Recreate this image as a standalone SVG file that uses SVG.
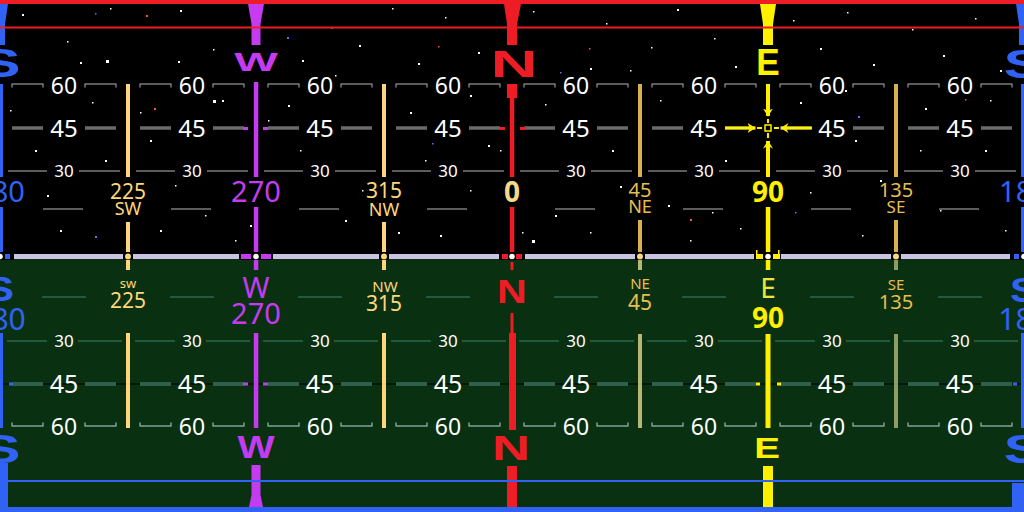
<svg xmlns="http://www.w3.org/2000/svg" width="1024" height="512" viewBox="0 0 1024 512">
<defs>
<style>
.num{font-family:"Noto Sans","DejaVu Sans",sans-serif;text-anchor:middle}
.cap{font-family:"Liberation Sans",Arial,sans-serif;font-weight:bold;text-anchor:middle}
.wt{fill:#ffffff}
.f60{font-size:23px}.f45{font-size:24px}.f45g{font-size:25px}.f30{font-size:17px}
.skyThin{fill:none;stroke:#7b7b7b;stroke-width:1.5;stroke-linejoin:round}
.skyBar{fill:none;stroke:#6b6b6b;stroke-width:3.5}
.gThin{fill:none;stroke:#2f6552;stroke-width:1.5}
.gBar{fill:none;stroke:#2d604c;stroke-width:4}
.gBrk{fill:none;stroke:#7fa097;stroke-width:1.5;stroke-linejoin:round}
.blue{fill:#3162f6}.red{fill:#ee1c24}.pur{fill:#c53cf0}.yel{fill:#fff000}
.lyel{fill:#ffd77a}.gold{fill:#d8b24a}.olive{fill:#b6b677}.sage{fill:#8e9c68}
</style>
<g id="skyCell">
<path class="skyThin" d="M-52,87.5V84H-21V87.5M21,87.5V84H52V87.5"/>
<path class="skyBar" d="M-52,128H-21M21,128H52"/>
<path class="skyThin" d="M-56,171H-17M15,171H56M-21,209H19"/>
</g>
<g id="gndCell">
<path class="gThin" d="M-22,297H22M-57,341H-17M14,341H58"/>
<path class="gBar" d="M-52,384H-21M21,384H52"/>
<path class="gBrk" d="M-52,422.5V426H-21V422.5M21,422.5V426H52V422.5"/>
</g>
<marker id="arrowY" viewBox="0 0 8 10" refX="7.5" refY="5" markerWidth="8" markerHeight="10" markerUnits="userSpaceOnUse" orient="auto">
<path d="M0,0L8,5L0,10L2.5,5z" fill="#fff000"/>
</marker>
</defs>

<g id="background">
<rect x="0" y="0" width="1024" height="256" fill="#000000"/>
<rect x="0" y="256" width="1024" height="256" fill="#0a3012"/>
</g>

<g id="stars">
<path fill="#ffffff" d="M22 14h2v2h-2zM67 41h1.5v1.5h-1.5zM178 61h2v2h-2zM213 49h1.5v1.5h-1.5zM302 60h2v2h-2zM331 27h1.5v1.5h-1.5zM359 45h2v2h-2zM392 8h1.5v1.5h-1.5zM418 63h2v2h-2zM445 17h1.5v1.5h-1.5zM478 52h2v2h-2zM533 11h1.5v1.5h-1.5zM590 68h2v2h-2zM606 23h1.5v1.5h-1.5zM651 47h1.5v1.5h-1.5zM677 9h2v2h-2zM714 38h1.5v1.5h-1.5zM735 66h2v2h-2zM793 20h1.5v1.5h-1.5zM820 48h2v2h-2zM847 12h1.5v1.5h-1.5zM873 64h2v2h-2zM912 29h1.5v1.5h-1.5zM943 55h2v2h-2zM975 18h1.5v1.5h-1.5zM1000 70h2v2h-2zM10 110h1.5v1.5h-1.5zM35 150h2v2h-2zM92 102h1.5v1.5h-1.5zM105 160h2v2h-2zM140 112h1.5v1.5h-1.5zM160 230h2v2h-2zM175 185h1.5v1.5h-1.5zM222 100h2v2h-2zM235 240h1.5v1.5h-1.5zM288 105h2v2h-2zM300 150h1.5v1.5h-1.5zM345 220h2v2h-2zM362 190h1.5v1.5h-1.5zM410 112h2v2h-2zM425 160h1.5v1.5h-1.5zM440 235h2v2h-2zM470 190h1.5v1.5h-1.5zM488 145h2v2h-2zM545 104h1.5v1.5h-1.5zM555 215h2v2h-2zM590 232h1.5v1.5h-1.5zM612 150h2v2h-2zM660 100h1.5v1.5h-1.5zM668 205h2v2h-2zM690 240h1.5v1.5h-1.5zM725 160h2v2h-2zM740 228h1.5v1.5h-1.5zM800 102h2v2h-2zM810 192h1.5v1.5h-1.5zM855 140h2v2h-2zM862 235h1.5v1.5h-1.5zM925 108h2v2h-2zM940 210h1.5v1.5h-1.5zM985 150h2v2h-2zM1005 230h1.5v1.5h-1.5zM60 230h2v2h-2zM205 215h1.5v1.5h-1.5zM47 195h2v2h-2zM268 120h1.5v1.5h-1.5zM398 232h2v2h-2zM522 232h1.5v1.5h-1.5zM620 186h2v2h-2zM712 212h1.5v1.5h-1.5zM880 180h2v2h-2zM990 100h1.5v1.5h-1.5zM150 140h2v2h-2zM335 75h1.5v1.5h-1.5zM470 95h2v2h-2zM585 90h1.5v1.5h-1.5zM845 90h2v2h-2zM920 150h1.5v1.5h-1.5zM80 62h2v2h-2zM110 8h1.5v1.5h-1.5zM250 225h2v2h-2zM500 150h1.5v1.5h-1.5zM700 120h2v2h-2zM630 70h1.5v1.5h-1.5zM106 60h3v3h-3zM213 100h3v3h-3zM532 240h3v3h-3zM640 160h2v2h-2zM180 10h2v2h-2z"/>
<path fill="#ff5050" d="M146 15h2v2h-2zM438 46h1.5v1.5h-1.5zM154 108h2v2h-2zM589 48h1.5v1.5h-1.5zM690 219h2v2h-2zM965 99h1.5v1.5h-1.5z"/>
<path fill="#6a6aff" d="M95 13h1.5v1.5h-1.5zM287 37h2v2h-2zM560 72h1.5v1.5h-1.5zM95 236h2v2h-2zM795 212h1.5v1.5h-1.5zM432 143h1.5v1.5h-1.5zM858 116h2v2h-2z"/>
</g>

<g id="grid">
<use href="#skyCell" x="64"/><use href="#skyCell" x="192"/><use href="#skyCell" x="320"/><use href="#skyCell" x="448"/>
<use href="#skyCell" x="576"/><use href="#skyCell" x="704"/><use href="#skyCell" x="832"/><use href="#skyCell" x="960"/>
<path d="M0,384H1024" stroke="#000000" stroke-width="1"/>
<use href="#gndCell" x="64"/><use href="#gndCell" x="192"/><use href="#gndCell" x="320"/><use href="#gndCell" x="448"/>
<use href="#gndCell" x="576"/><use href="#gndCell" x="704"/><use href="#gndCell" x="832"/><use href="#gndCell" x="960"/>
</g>

<g id="elevation-labels" class="num wt">
<text class="f60" x="64" y="94">60</text><text class="f60" x="192" y="94">60</text><text class="f60" x="320" y="94">60</text><text class="f60" x="448" y="94">60</text>
<text class="f60" x="576" y="94">60</text><text class="f60" x="704" y="94">60</text><text class="f60" x="832" y="94">60</text><text class="f60" x="960" y="94">60</text>
<text class="f45" x="64" y="137">45</text><text class="f45" x="192" y="137">45</text><text class="f45" x="320" y="137">45</text><text class="f45" x="448" y="137">45</text>
<text class="f45" x="576" y="137">45</text><text class="f45" x="704" y="137">45</text><text class="f45" x="832" y="137">45</text><text class="f45" x="960" y="137">45</text>
<text class="f30" x="64" y="177">30</text><text class="f30" x="192" y="177">30</text><text class="f30" x="320" y="177">30</text><text class="f30" x="448" y="177">30</text>
<text class="f30" x="576" y="177">30</text><text class="f30" x="704" y="177">30</text><text class="f30" x="832" y="177">30</text><text class="f30" x="960" y="177">30</text>
<text class="f30" x="64" y="347">30</text><text class="f30" x="192" y="347">30</text><text class="f30" x="320" y="347">30</text><text class="f30" x="448" y="347">30</text>
<text class="f30" x="576" y="347">30</text><text class="f30" x="704" y="347">30</text><text class="f30" x="832" y="347">30</text><text class="f30" x="960" y="347">30</text>
<text class="f45g" x="64" y="393">45</text><text class="f45g" x="192" y="393">45</text><text class="f45g" x="320" y="393">45</text><text class="f45g" x="448" y="393">45</text>
<text class="f45g" x="576" y="393">45</text><text class="f45g" x="704" y="393">45</text><text class="f45g" x="832" y="393">45</text><text class="f45g" x="960" y="393">45</text>
<text class="f60" x="64" y="435">60</text><text class="f60" x="192" y="435">60</text><text class="f60" x="320" y="435">60</text><text class="f60" x="448" y="435">60</text>
<text class="f60" x="576" y="435">60</text><text class="f60" x="704" y="435">60</text><text class="f60" x="832" y="435">60</text><text class="f60" x="960" y="435">60</text>
</g>

<g id="col-S-left">
<polygon class="blue" points="-8,4 8,4 5,24 5,45 -5,45 -5,24"/>
<rect class="blue" x="-3" y="84" width="6" height="93"/>
<rect class="blue" x="-3" y="207" width="6" height="45"/>
<rect class="blue" x="-3" y="333" width="6" height="95"/>
<rect class="blue" x="0" y="463" width="8" height="49"/>
<rect class="blue" x="9" y="382.5" width="4" height="3"/>
<text class="cap blue" font-size="41" transform="translate(0,77) scale(1.5,1)">S</text>
<text class="num blue" font-size="29" x="0" y="202">180</text>
<text class="cap blue" font-size="35" transform="translate(0,301) scale(1.2,1)">S</text>
<text class="num blue" font-size="30" x="0" y="330">180</text>
<text class="cap blue" font-size="41" transform="translate(0,463) scale(1.5,1)">S</text>
</g>

<g id="col-S-right">
<polygon class="blue" points="1016,4 1032,4 1029,24 1029,45 1019,45 1019,24"/>
<rect class="blue" x="1021" y="84" width="6" height="93"/>
<rect class="blue" x="1021" y="207" width="6" height="45"/>
<rect class="blue" x="1021" y="333" width="6" height="95"/>
<rect class="blue" x="1012" y="483" width="12" height="29"/>
<rect class="blue" x="1013" y="382.5" width="4" height="3"/>
<text class="cap blue" font-size="41" transform="translate(1024,78) scale(1.5,1)">S</text>
<text class="num blue" font-size="29" x="1024" y="202">180</text>
<text class="cap blue" font-size="35" transform="translate(1024,302) scale(1.2,1)">S</text>
<text class="num blue" font-size="30" x="1024" y="330">180</text>
<text class="cap blue" font-size="41" transform="translate(1024,463) scale(1.5,1)">S</text>
</g>

<g id="col-225">
<rect class="lyel" x="126" y="84" width="4" height="93"/>
<rect class="lyel" x="126" y="222" width="4" height="30"/>
<rect class="lyel" x="126" y="260" width="4" height="10"/>
<rect class="lyel" x="126" y="333" width="4" height="95"/>
<text class="num lyel" font-size="21" x="128" y="199">225</text>
<text class="num lyel" font-size="18" x="128" y="215">SW</text>
<text class="num lyel" font-size="13" x="128" y="288">sw</text>
<text class="num lyel" font-size="21" x="128" y="308">225</text>
</g>

<g id="col-W">
<polygon class="pur" points="248,4 264,4 260.5,24 260.5,45 251.5,45 251.5,24"/>
<rect class="pur" x="253.8" y="82" width="4.5" height="95"/>
<rect class="pur" x="253.8" y="207" width="4.5" height="45"/>
<rect class="pur" x="253.8" y="260" width="4.5" height="10"/>
<rect class="pur" x="253.8" y="333" width="4.5" height="95"/>
<rect class="pur" x="243" y="127" width="5" height="3"/><rect class="pur" x="263" y="127" width="5" height="3"/>
<rect class="pur" x="243" y="382.5" width="5" height="3"/><rect class="pur" x="263" y="382.5" width="5" height="3"/>
<polygon class="pur" points="251.5,465 260.5,465 260.5,495 263,507 249,507 251.5,495"/>
<text class="cap pur" font-size="25" transform="translate(256,71) scale(1.85,1)">W</text>
<text class="num pur" font-size="29" x="256" y="202">270</text>
<text class="num pur" font-size="29" x="256" y="298">W</text>
<text class="num pur" font-size="29" x="256" y="324">270</text>
<text class="cap pur" font-size="31" transform="translate(256,458) scale(1.27,1)">W</text>
</g>

<g id="col-315">
<rect class="lyel" x="382" y="84" width="4" height="93"/>
<rect class="lyel" x="382" y="222" width="4" height="30"/>
<rect class="lyel" x="382" y="260" width="4" height="10"/>
<rect class="lyel" x="382" y="333" width="4" height="95"/>
<text class="num lyel" font-size="21" x="384" y="198">315</text>
<text class="num lyel" font-size="18" x="384" y="216">NW</text>
<text class="num lyel" font-size="15" x="385" y="292">NW</text>
<text class="num lyel" font-size="21" x="384" y="311">315</text>
</g>

<g id="col-N">
<polygon class="red" points="504,4 521,4 517,24 517,45 507,45 507,24"/>
<rect class="red" x="507" y="84" width="10" height="14"/>
<rect class="red" x="509.8" y="98" width="4.5" height="79"/>
<rect class="red" x="509.8" y="207" width="4.5" height="45"/>
<rect class="red" x="500" y="127" width="5" height="3"/><rect class="red" x="520" y="127" width="6" height="3"/>
<rect class="red" x="510.5" y="262" width="3" height="8"/>
<rect class="red" x="510.5" y="313" width="3" height="20"/>
<rect class="red" x="509" y="333" width="7" height="97"/>
<rect class="red" x="507" y="466" width="10" height="41"/>
<text class="cap red" font-size="37" transform="translate(514,77) scale(1.75,1)">N</text>
<text class="num" font-size="28" font-weight="bold" fill="#f2da8c" x="512" y="202">0</text>
<text class="cap red" font-size="33" transform="translate(512,303) scale(1.25,1)">N</text>
<text class="cap red" font-size="35" transform="translate(511,460) scale(1.5,1)">N</text>
</g>

<g id="col-45">
<rect class="gold" x="638" y="84" width="4" height="93"/>
<rect class="gold" x="638" y="220" width="4" height="32"/>
<rect class="olive" x="638" y="260" width="4" height="10"/>
<rect class="olive" x="638" y="334" width="4" height="94"/>
<text class="num" fill="#e6bf50" font-size="20" x="640" y="197">45</text>
<text class="num" fill="#e6bf50" font-size="18" x="640" y="213">NE</text>
<text class="num" fill="#e6bf50" font-size="15" x="640" y="289">NE</text>
<text class="num" fill="#e6bf50" font-size="21" x="640" y="310">45</text>
</g>

<g id="col-E">
<polygon class="yel" points="760,4 776,4 773,24 773,45 763,45 763,24"/>
<path d="M768,84V116" stroke="#fff000" stroke-width="4" marker-end="url(#arrowY)"/>
<path d="M768,177V141" stroke="#fff000" stroke-width="4" marker-end="url(#arrowY)"/>
<path d="M725,128H755" stroke="#fff000" stroke-width="3" marker-end="url(#arrowY)"/>
<path d="M812,128H781" stroke="#fff000" stroke-width="3" marker-end="url(#arrowY)"/>
<rect x="765" y="125" width="6" height="6" fill="none" stroke="#fff000" stroke-width="1.5"/>
<rect class="yel" x="757" y="127" width="5" height="2"/><rect class="yel" x="774" y="127" width="5" height="2"/>
<rect class="yel" x="767" y="119" width="2" height="4"/><rect class="yel" x="767" y="133" width="2" height="5"/>
<rect class="yel" x="765.8" y="207" width="4.5" height="45"/>
<rect class="yel" x="765.8" y="260" width="4.5" height="10"/>
<rect class="yel" x="765.5" y="334" width="5" height="94"/>
<rect class="yel" x="756" y="382.5" width="4" height="3"/><rect class="yel" x="777" y="382.5" width="4" height="3"/>
<rect class="yel" x="763" y="466" width="10" height="41"/>
<text class="cap yel" font-size="37" transform="translate(768,75) scale(0.95,1)">E</text>
<text class="num yel" font-size="28" font-weight="bold" x="768" y="202">90</text>
<text class="num" fill="#ece63a" font-size="28" x="768" y="298">E</text>
<text class="num yel" font-size="28" font-weight="bold" x="768" y="328">90</text>
<text class="cap yel" font-size="29" transform="translate(767,458) scale(1.33,1)">E</text>
</g>

<g id="col-135">
<rect class="gold" x="894" y="84" width="4" height="93"/>
<rect class="gold" x="894" y="220" width="4" height="32"/>
<rect class="sage" x="894" y="260" width="4" height="10"/>
<rect class="sage" x="894" y="334" width="4" height="94"/>
<text class="num" fill="#e6bf50" font-size="20" x="896" y="197">135</text>
<text class="num" fill="#e6bf50" font-size="17" x="896" y="213">SE</text>
<text class="num" fill="#e6bf50" font-size="15" x="896" y="290">SE</text>
<text class="num" fill="#e6bf50" font-size="20" x="896" y="309">135</text>
</g>

<g id="horizon">
<rect x="0" y="253" width="1024" height="1" fill="#000000"/>
<rect x="0" y="254" width="1024" height="5" fill="#cbc3e3"/>
<rect x="-14" y="253" width="28" height="7" fill="#000000"/>
<rect x="1010" y="253" width="28" height="7" fill="#000000"/>
<rect x="239" y="253" width="34" height="7" fill="#000000"/>
<rect x="499" y="253" width="26" height="7" fill="#000000"/>
<rect x="754" y="253" width="27" height="7" fill="#000000"/>
<rect x="123" y="253" width="10" height="7" fill="#000000"/>
<rect x="379" y="253" width="10" height="7" fill="#000000"/>
<rect x="635" y="253" width="10" height="7" fill="#000000"/>
<rect x="891" y="253" width="10" height="7" fill="#000000"/>
<rect class="blue" x="5" y="254" width="5" height="5"/><rect class="blue" x="1014" y="254" width="5" height="5"/>
<rect class="pur" x="241" y="254" width="10" height="5"/><rect class="pur" x="261" y="254" width="10" height="5"/>
<rect class="red" x="502" y="254" width="6" height="5"/><rect class="red" x="516" y="254" width="6" height="5"/>
<rect class="yel" x="756" y="254" width="7" height="5"/><rect class="yel" x="773" y="254" width="7" height="5"/>
<rect class="yel" x="756" y="250" width="1.5" height="4"/><rect class="yel" x="778" y="250" width="1.5" height="4"/>
<circle cx="0" cy="256.5" r="2.8" fill="#ffffff"/>
<circle cx="256" cy="256.5" r="2.8" fill="#ffffff"/>
<circle cx="512" cy="256.5" r="2.8" fill="#ffffff"/>
<circle cx="768" cy="256.5" r="2.8" fill="#ffffff"/>
<circle cx="1024" cy="256.5" r="2.8" fill="#ffffff"/>
<circle cx="128" cy="256.5" r="3" fill="#f8d878"/>
<circle cx="384" cy="256.5" r="3" fill="#f8d878"/>
<circle cx="640" cy="256.5" r="3" fill="#f8d878"/>
<circle cx="896" cy="256.5" r="3" fill="#f8d878"/>
</g>

<g id="frame">
<rect class="red" x="0" y="0" width="1024" height="4"/>
<path d="M0,27.5H1024" stroke="#ee1c24" stroke-width="2"/>
<path d="M7,481H1024" stroke="#3162f6" stroke-width="2"/>
<rect class="blue" x="0" y="507" width="1024" height="5"/>
</g>
</svg>
